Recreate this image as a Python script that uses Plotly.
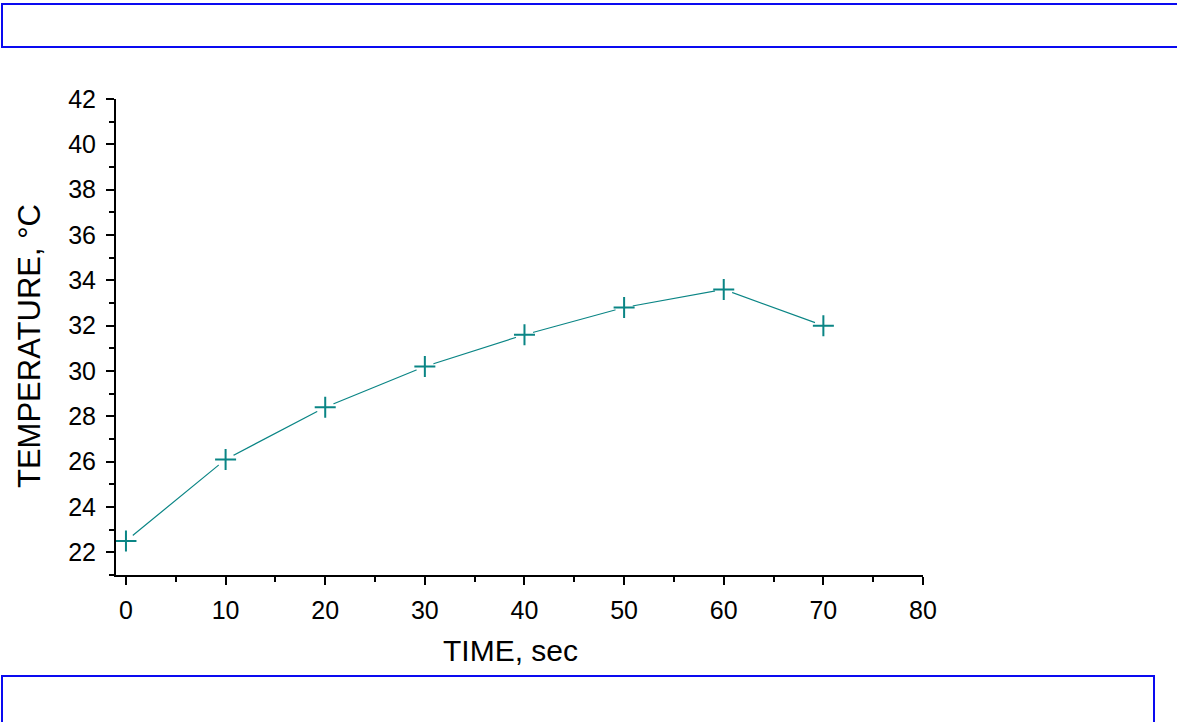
import plotly.graph_objects as go

time_sec = [0, 10, 20, 30, 40, 50, 60, 70]
temperature_c = [22.5, 26.1, 28.4, 30.2, 31.6, 32.8, 33.6, 32.0]

x_title = "TIME, sec"
y_title = "TEMPERATURE, °C"

TEAL = "#0a8585"
FONT = "Liberation Sans, Arial"
W, H = 1177, 722
L, R, T, B = 116, 923, 99, 575  # plot area in pixels

def px(x):
    return (x - L) / (R - L)

def py(y):
    return (B - y) / (B - T)

fig = go.Figure()
fig.add_trace(go.Scatter(x=time_sec, y=temperature_c, mode="lines",
                         line=dict(color=TEAL, width=1.2), hoverinfo="skip", showlegend=False))
fig.add_trace(go.Scatter(x=time_sec, y=temperature_c, mode="markers",
                         marker=dict(symbol="circle", size=18, color="white", line=dict(width=0)),
                         hoverinfo="skip", showlegend=False))
fig.add_trace(go.Scatter(x=time_sec, y=temperature_c, mode="markers",
                         marker=dict(symbol="cross-thin", size=15, color=TEAL,
                                     line=dict(color=TEAL, width=2)),
                         showlegend=False))

axis_common = dict(showgrid=False, zeroline=False, showline=True, linecolor="black", linewidth=2,
                   ticks="outside", ticklen=8, tickwidth=2, tickcolor="black",
                   tickfont=dict(family=FONT, size=25, color="black"))

fig.update_xaxes(range=[-1, 80], tick0=0, dtick=10, ticklabelstandoff=4,
                 minor=dict(ticks="outside", ticklen=5, tickwidth=2, tickcolor="black", dtick=5, tick0=0),
                 **axis_common)
fig.update_yaxes(range=[21, 42], tick0=0, dtick=2, ticklabelstandoff=5,
                 minor=dict(ticks="outside", ticklen=5, tickwidth=2, tickcolor="black", dtick=1, tick0=0),
                 **axis_common)

fig.add_annotation(x=px(510), y=py(651), xref="paper", yref="paper", text=x_title, showarrow=False,
                   xanchor="center", yanchor="middle",
                   font=dict(family=FONT, size=30, color="black"))
fig.add_annotation(x=px(29), y=py(346), xref="paper", yref="paper", text=y_title, showarrow=False,
                   xanchor="center", yanchor="middle",
                   textangle=-90, font=dict(family=FONT, size=31, color="black"))

fig.add_shape(type="rect", xref="paper", yref="paper",
              x0=px(2), x1=px(1185), y0=py(4), y1=py(47),
              line=dict(color="#0a0af0", width=2), fillcolor="rgba(0,0,0,0)")
fig.add_shape(type="rect", xref="paper", yref="paper",
              x0=px(2), x1=px(1154), y0=py(676), y1=py(730),
              line=dict(color="#0a0af0", width=2), fillcolor="rgba(0,0,0,0)")

fig.update_layout(width=W, height=H, margin=dict(l=L, r=W - R, t=T, b=H - B),
                  plot_bgcolor="white", paper_bgcolor="white", showlegend=False)

fig.write_html("out.html", config={"displayModeBar": False},
               post_script="document.body.style.margin='0';document.body.style.overflow='hidden';")
